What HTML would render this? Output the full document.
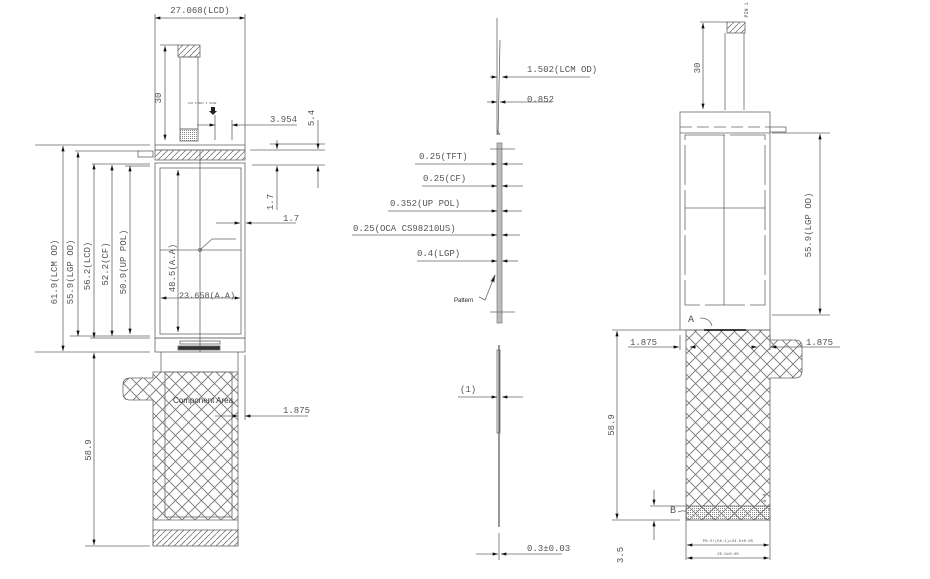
<!DOCTYPE html>
<html><head><meta charset="utf-8"><style>
html,body{margin:0;padding:0;background:#fff;}
svg{display:block;}
text{font-family:"Liberation Mono","DejaVu Sans Mono",monospace;fill:#555;font-size:9px;}
</style></head><body>
<svg width="930" height="579" viewBox="0 0 930 579" xmlns="http://www.w3.org/2000/svg">
<defs>
<pattern id="ch" width="13" height="13" patternUnits="userSpaceOnUse">
<path d="M0 0L13 13M13 0L0 13" stroke="#777" stroke-width="0.9" fill="none"/>
</pattern>
<pattern id="hh" width="6" height="6" patternUnits="userSpaceOnUse">
<path d="M0 6L6 0" stroke="#777" stroke-width="0.8"/>
</pattern>
<pattern id="dots" width="2" height="2" patternUnits="userSpaceOnUse">
<rect width="1" height="1" fill="#888"/>
</pattern>
<marker id="a" viewBox="0 0 10 6" refX="10" refY="3" markerWidth="8" markerHeight="4" orient="auto-start-reverse"><path d="M0 0L10 3L0 6z" fill="#111"/></marker>
</defs>
<g stroke="#666" stroke-width="0.8" fill="none">
<!-- LEFT VIEW -->
<line x1="155" y1="14" x2="155" y2="145"/><line x1="245" y1="14" x2="245" y2="145"/>
<line x1="155" y1="18" x2="245" y2="18" marker-start="url(#a)" marker-end="url(#a)"/>
<rect x="178" y="45" width="22" height="12" fill="url(#hh)"/>
<rect x="180" y="57" width="18" height="72"/>
<rect x="180" y="129" width="18" height="12" fill="url(#dots)"/>
<line x1="160" y1="45" x2="178" y2="45"/>
<line x1="165" y1="46" x2="165" y2="140" marker-start="url(#a)" marker-end="url(#a)"/>
<line x1="215" y1="115" x2="215" y2="140"/><line x1="232" y1="120" x2="232" y2="140"/>
<line x1="197" y1="125" x2="215" y2="125" marker-end="url(#a)"/>
<line x1="232" y1="125" x2="297" y2="125" marker-start="url(#a)"/>
<rect x="155" y="145" width="90" height="5"/>
<rect x="155" y="150" width="90" height="10" fill="url(#hh)"/>
<rect x="138" y="151" width="15" height="6"/>
<line x1="35" y1="145" x2="150" y2="145"/><line x1="75" y1="151" x2="140" y2="151"/>
<line x1="92" y1="164" x2="150" y2="164"/><line x1="125" y1="166" x2="150" y2="166"/>
<rect x="155" y="163" width="90" height="175"/>
<rect x="160" y="168" width="81" height="166"/>
<line x1="200" y1="150" x2="200" y2="352"/>
<line x1="160" y1="250" x2="241" y2="250"/>
<circle cx="200" cy="250" r="1.5"/>
<line x1="200" y1="250" x2="212" y2="239"/><line x1="212" y1="239" x2="236" y2="239"/>
<rect x="155" y="338" width="90" height="14"/>
<rect x="180" y="341" width="40" height="3"/>
<rect x="178" y="346" width="42" height="4" fill="#333"/>
<line x1="35" y1="352" x2="150" y2="352"/>
<line x1="70" y1="336" x2="150" y2="336"/><line x1="90" y1="338" x2="150" y2="338"/>
<line x1="63" y1="146" x2="63" y2="351" marker-start="url(#a)" marker-end="url(#a)"/>
<line x1="78" y1="152" x2="78" y2="336" marker-start="url(#a)" marker-end="url(#a)"/>
<line x1="94" y1="164" x2="94" y2="338" marker-start="url(#a)" marker-end="url(#a)"/>
<line x1="112" y1="165" x2="112" y2="336" marker-start="url(#a)" marker-end="url(#a)"/>
<line x1="130" y1="166" x2="130" y2="334" marker-start="url(#a)" marker-end="url(#a)"/>
<line x1="178" y1="170" x2="178" y2="332" marker-start="url(#a)" marker-end="url(#a)"/>
<line x1="161" y1="298" x2="240" y2="298" marker-start="url(#a)" marker-end="url(#a)"/>
<line x1="270" y1="144" x2="325" y2="144"/><line x1="250" y1="150" x2="325" y2="150"/>
<line x1="252" y1="165" x2="325" y2="165"/>
<line x1="318" y1="120" x2="318" y2="149" marker-end="url(#a)"/>
<line x1="318" y1="188" x2="318" y2="166" marker-end="url(#a)"/>
<line x1="277" y1="140" x2="277" y2="149" marker-end="url(#a)"/>
<line x1="277" y1="210" x2="277" y2="166" marker-end="url(#a)"/>
<line x1="216" y1="223" x2="240" y2="223" marker-end="url(#a)"/>
<line x1="246" y1="223" x2="296" y2="223" marker-start="url(#a)"/>
<line x1="161" y1="352" x2="161" y2="372"/><line x1="238" y1="352" x2="238" y2="372"/>
<line x1="245" y1="355" x2="245" y2="420"/>
<path d="M160 372H238V520H153V400H130Q123 400 123 393V385Q123 378 130 378H153V372Z" fill="url(#ch)"/>
<rect x="165" y="372" width="67" height="145"/>
<rect x="153" y="530" width="85" height="16" fill="url(#hh)"/>
<line x1="153" y1="520" x2="153" y2="546"/><line x1="238" y1="520" x2="238" y2="546"/>
<line x1="85" y1="546" x2="150" y2="546"/>
<line x1="94" y1="353" x2="94" y2="545" marker-start="url(#a)" marker-end="url(#a)"/>
<line x1="215" y1="416" x2="238" y2="416" marker-end="url(#a)"/>
<line x1="245" y1="416" x2="308" y2="416" marker-start="url(#a)"/>

<!-- MIDDLE -->
<line x1="497" y1="18" x2="497" y2="135"/>
<line x1="500" y1="40" x2="498" y2="135"/>
<line x1="497" y1="130" x2="500" y2="135"/>
<rect x="497" y="143" width="5" height="180" fill="#bbb" stroke="#888"/>
<line x1="490" y1="77" x2="497" y2="77" marker-end="url(#a)"/>
<line x1="502" y1="77" x2="590" y2="77" marker-start="url(#a)"/>
<line x1="487" y1="102" x2="497" y2="102" marker-end="url(#a)"/>
<line x1="500" y1="102" x2="552" y2="102" marker-start="url(#a)"/>
<line x1="490" y1="149" x2="515" y2="149"/>
<line x1="415" y1="164" x2="497" y2="164" marker-end="url(#a)"/><line x1="502" y1="164" x2="523" y2="164" marker-start="url(#a)"/>
<line x1="422" y1="186" x2="497" y2="186" marker-end="url(#a)"/><line x1="502" y1="186" x2="523" y2="186" marker-start="url(#a)"/>
<line x1="388" y1="211" x2="497" y2="211" marker-end="url(#a)"/><line x1="502" y1="211" x2="522" y2="211" marker-start="url(#a)"/>
<line x1="352" y1="235" x2="497" y2="235" marker-end="url(#a)"/><line x1="502" y1="235" x2="520" y2="235" marker-start="url(#a)"/>
<line x1="417" y1="261" x2="497" y2="261" marker-end="url(#a)"/><line x1="502" y1="261" x2="518" y2="261" marker-start="url(#a)"/>
<path d="M479 297L485 300L495 275" />
<path d="M495 275l-4 6l3 1z" fill="#111"/>
<line x1="490" y1="312" x2="515" y2="312"/>
<line x1="499" y1="345" x2="499" y2="527" stroke="#555" stroke-width="1.2"/>
<rect x="497" y="350" width="3" height="83"/>
<line x1="458" y1="397" x2="497" y2="397" marker-end="url(#a)"/><line x1="502" y1="397" x2="523" y2="397" marker-start="url(#a)"/>
<line x1="499" y1="533" x2="499" y2="560"/>
<line x1="476" y1="554" x2="498" y2="554" marker-end="url(#a)"/><line x1="501" y1="554" x2="562" y2="554" marker-start="url(#a)"/>

<!-- RIGHT VIEW -->
<rect x="727" y="22" width="18" height="11" fill="url(#hh)"/>
<line x1="725" y1="33" x2="725" y2="110"/><line x1="744" y1="33" x2="744" y2="110"/>
<line x1="700" y1="22" x2="727" y2="22"/>
<line x1="703" y1="23" x2="703" y2="109" marker-start="url(#a)" marker-end="url(#a)"/>
<rect x="680" y="112" width="90" height="218"/>
<line x1="680" y1="127" x2="770" y2="127" stroke-dasharray="12 5"/>
<line x1="680" y1="133" x2="770" y2="133"/>
<rect x="770" y="127" width="16" height="5"/>
<rect x="685" y="135" width="80" height="170" stroke-dasharray="40 5"/>
<line x1="724" y1="135" x2="724" y2="305"/><line x1="685" y1="208" x2="765" y2="208"/>
<line x1="772" y1="133" x2="830" y2="133"/><line x1="772" y1="315" x2="830" y2="315"/>
<line x1="820" y1="134" x2="820" y2="314" marker-start="url(#a)" marker-end="url(#a)"/>
<path d="M686 330H770V340H795Q802 340 802 347V371Q802 378 795 378H770V520H686Z" fill="url(#ch)"/>
<rect x="686" y="506" width="84" height="14" fill="url(#dots)"/>
<line x1="704" y1="330" x2="746" y2="330" stroke="#000" stroke-width="1.5"/>
<line x1="612" y1="330" x2="680" y2="330"/><line x1="612" y1="520" x2="680" y2="520"/>
<line x1="617" y1="331" x2="617" y2="519" marker-start="url(#a)" marker-end="url(#a)"/>
<line x1="680" y1="335" x2="680" y2="350"/><line x1="770" y1="335" x2="770" y2="350"/>
<line x1="628" y1="347" x2="679" y2="347" marker-end="url(#a)"/>
<line x1="690" y1="347" x2="696" y2="347" marker-start="url(#a)"/>
<line x1="751" y1="347" x2="757" y2="347" marker-end="url(#a)"/>
<line x1="771" y1="347" x2="840" y2="347" marker-start="url(#a)"/>
<path d="M700 318q10 0 12 8"/><path d="M678 512q8 -3 10 2"/>
<line x1="650" y1="506" x2="685" y2="506"/>
<line x1="654" y1="490" x2="654" y2="505" marker-end="url(#a)"/>
<line x1="654" y1="540" x2="654" y2="521" marker-end="url(#a)"/>
<line x1="686" y1="520" x2="686" y2="560"/><line x1="770" y1="520" x2="770" y2="560"/>
<line x1="687" y1="545" x2="769" y2="545" marker-start="url(#a)" marker-end="url(#a)"/>
<line x1="687" y1="558" x2="769" y2="558" marker-start="url(#a)" marker-end="url(#a)"/>
</g>

<text x="200" y="13" text-anchor="middle">27.068(LCD)</text>
<text transform="translate(161,98) rotate(-90)" text-anchor="middle">30</text>
<text x="202" y="104" text-anchor="middle" style="font-size:3px">LCD'S REV I SIDE</text>
<path d="M211 107h4v4h2l-4 4l-4-4h2z" fill="#222"/>
<text x="270" y="122">3.954</text>
<text transform="translate(314,118) rotate(-90)" text-anchor="middle">5.4</text>
<text transform="translate(273,202) rotate(-90)" text-anchor="middle">1.7</text>
<text x="283" y="221">1.7</text>
<text transform="translate(57,272) rotate(-90)" text-anchor="middle">61.9(LCM OD)</text>
<text transform="translate(73,272) rotate(-90)" text-anchor="middle">55.9(LGP OD)</text>
<text transform="translate(90,266) rotate(-90)" text-anchor="middle">56.2(LCD)</text>
<text transform="translate(108,264) rotate(-90)" text-anchor="middle">52.2(CF)</text>
<text transform="translate(126,262) rotate(-90)" text-anchor="middle">50.9(UP POL)</text>
<text transform="translate(175,268) rotate(-90)" text-anchor="middle">48.5(A.A)</text>
<text x="207" y="298" text-anchor="middle" style="font-size:8.5px">23.658(A.A)</text>
<text x="173" y="403" style="font-family:'Liberation Sans',sans-serif;font-size:8px;fill:#333">Component Area</text>
<text x="283" y="413">1.875</text>
<text transform="translate(91,450) rotate(-90)" text-anchor="middle">58.9</text>

<text x="527" y="72">1.502(LCM OD)</text>
<text x="527" y="102">0.852</text>
<text x="419" y="159">0.25(TFT)</text>
<text x="423" y="181">0.25(CF)</text>
<text x="390" y="206">0.352(UP POL)</text>
<text x="353" y="231">0.25(OCA CS98210US)</text>
<text x="417" y="256">0.4(LGP)</text>
<text x="454" y="302" style="font-family:'Liberation Sans',sans-serif;font-size:6px;fill:#222">Pattern</text>
<text x="460" y="392">(1)</text>
<text x="527" y="551">0.3±0.03</text>

<text transform="translate(700,68) rotate(-90)" text-anchor="middle">30</text>
<text transform="translate(811,225) rotate(-90)" text-anchor="middle">55.9(LGP OD)</text>
<text x="688" y="322" style="font-size:10px">A</text>
<text x="670" y="513" style="font-size:10px">B</text>
<text x="630" y="345">1.875</text>
<text x="806" y="345">1.875</text>
<text transform="translate(614,425) rotate(-90)" text-anchor="middle">58.9</text>
<text transform="translate(623,555) rotate(-90)" text-anchor="middle">3.5</text>
<text x="728" y="542" text-anchor="middle" style="font-size:4px">P0.5*(50-1)=24.5±0.05</text>
<text x="728" y="555" text-anchor="middle" style="font-size:4px">25.5±0.05</text>
<text transform="translate(766,498) rotate(-90)" text-anchor="middle" style="font-size:5px">0.4</text>
<text transform="translate(748,10) rotate(-90)" text-anchor="middle" style="font-size:5px">PIN 1</text>
</svg>
</body></html>
